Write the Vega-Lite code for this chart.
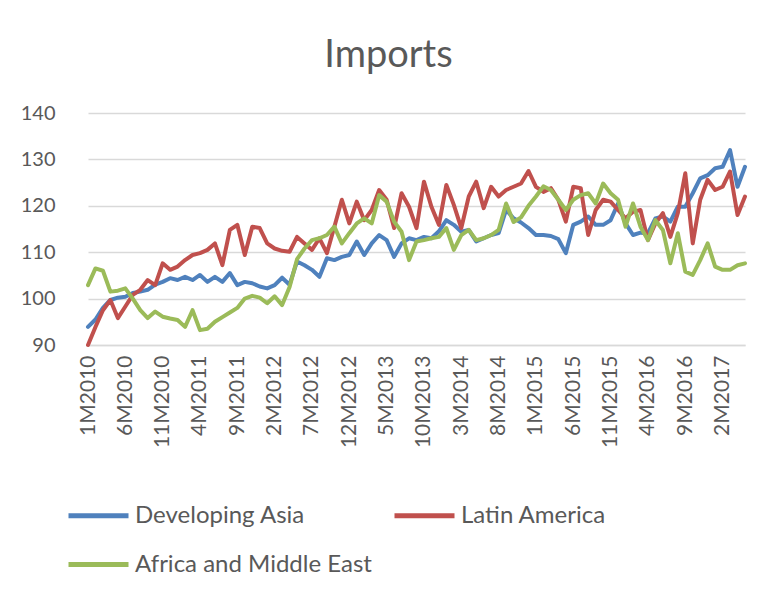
{
  "$schema": "https://vega.github.io/schema/vega-lite/v6.json",
  "width": 657,
  "height": 232,
  "autosize": {"type": "none"},
  "padding": {"left": 88, "top": 113, "right": 31, "bottom": 261},
  "background": "white",
  "title": {
    "text": "Imports",
    "font": "Lato",
    "fontSize": 38,
    "fontWeight": "normal",
    "color": "#595959",
    "anchor": "middle",
    "frame": "group",
    "dx": -28,
    "baseline": "alphabetic",
    "offset": -2
  },
  "config": {
    "view": {"stroke": null},
    "font": "Lato"
  },
  "data": {
    "values": [
      {"m":"1M2010","r":"Developing Asia","v":93.9},{"m":"2M2010","r":"Developing Asia","v":95.5},{"m":"3M2010","r":"Developing Asia","v":98.0},{"m":"4M2010","r":"Developing Asia","v":99.7},{"m":"5M2010","r":"Developing Asia","v":100.2},{"m":"6M2010","r":"Developing Asia","v":100.4},{"m":"7M2010","r":"Developing Asia","v":101.2},{"m":"8M2010","r":"Developing Asia","v":101.5},{"m":"9M2010","r":"Developing Asia","v":101.9},{"m":"10M2010","r":"Developing Asia","v":103.0},{"m":"11M2010","r":"Developing Asia","v":103.6},{"m":"12M2010","r":"Developing Asia","v":104.4},
      {"m":"1M2011","r":"Developing Asia","v":104.0},{"m":"2M2011","r":"Developing Asia","v":104.7},{"m":"3M2011","r":"Developing Asia","v":104.0},{"m":"4M2011","r":"Developing Asia","v":105.1},{"m":"5M2011","r":"Developing Asia","v":103.6},{"m":"6M2011","r":"Developing Asia","v":104.7},{"m":"7M2011","r":"Developing Asia","v":103.6},{"m":"8M2011","r":"Developing Asia","v":105.5},{"m":"9M2011","r":"Developing Asia","v":102.9},{"m":"10M2011","r":"Developing Asia","v":103.6},{"m":"11M2011","r":"Developing Asia","v":103.3},{"m":"12M2011","r":"Developing Asia","v":102.6},
      {"m":"1M2012","r":"Developing Asia","v":102.2},{"m":"2M2012","r":"Developing Asia","v":102.9},{"m":"3M2012","r":"Developing Asia","v":104.5},{"m":"4M2012","r":"Developing Asia","v":103.0},{"m":"5M2012","r":"Developing Asia","v":108.0},{"m":"6M2012","r":"Developing Asia","v":107.2},{"m":"7M2012","r":"Developing Asia","v":106.2},{"m":"8M2012","r":"Developing Asia","v":104.7},{"m":"9M2012","r":"Developing Asia","v":108.7},{"m":"10M2012","r":"Developing Asia","v":108.3},{"m":"11M2012","r":"Developing Asia","v":109.0},{"m":"12M2012","r":"Developing Asia","v":109.4},
      {"m":"1M2013","r":"Developing Asia","v":112.3},{"m":"2M2013","r":"Developing Asia","v":109.4},{"m":"3M2013","r":"Developing Asia","v":111.9},{"m":"4M2013","r":"Developing Asia","v":113.7},{"m":"5M2013","r":"Developing Asia","v":112.6},{"m":"6M2013","r":"Developing Asia","v":109.0},{"m":"7M2013","r":"Developing Asia","v":111.9},{"m":"8M2013","r":"Developing Asia","v":113.0},{"m":"9M2013","r":"Developing Asia","v":112.6},{"m":"10M2013","r":"Developing Asia","v":113.3},{"m":"11M2013","r":"Developing Asia","v":113.0},{"m":"12M2013","r":"Developing Asia","v":114.5},
      {"m":"1M2014","r":"Developing Asia","v":116.9},{"m":"2M2014","r":"Developing Asia","v":115.9},{"m":"3M2014","r":"Developing Asia","v":114.4},{"m":"4M2014","r":"Developing Asia","v":114.8},{"m":"5M2014","r":"Developing Asia","v":112.3},{"m":"6M2014","r":"Developing Asia","v":113.0},{"m":"7M2014","r":"Developing Asia","v":113.7},{"m":"8M2014","r":"Developing Asia","v":114.1},{"m":"9M2014","r":"Developing Asia","v":119.1},{"m":"10M2014","r":"Developing Asia","v":117.3},{"m":"11M2014","r":"Developing Asia","v":116.4},{"m":"12M2014","r":"Developing Asia","v":115.2},
      {"m":"1M2015","r":"Developing Asia","v":113.7},{"m":"2M2015","r":"Developing Asia","v":113.7},{"m":"3M2015","r":"Developing Asia","v":113.5},{"m":"4M2015","r":"Developing Asia","v":112.8},{"m":"5M2015","r":"Developing Asia","v":109.8},{"m":"6M2015","r":"Developing Asia","v":115.9},{"m":"7M2015","r":"Developing Asia","v":116.6},{"m":"8M2015","r":"Developing Asia","v":117.7},{"m":"9M2015","r":"Developing Asia","v":115.9},{"m":"10M2015","r":"Developing Asia","v":115.9},{"m":"11M2015","r":"Developing Asia","v":116.9},{"m":"12M2015","r":"Developing Asia","v":120.5},
      {"m":"1M2016","r":"Developing Asia","v":116.2},{"m":"2M2016","r":"Developing Asia","v":113.7},{"m":"3M2016","r":"Developing Asia","v":114.2},{"m":"4M2016","r":"Developing Asia","v":114.1},{"m":"5M2016","r":"Developing Asia","v":117.3},{"m":"6M2016","r":"Developing Asia","v":117.7},{"m":"7M2016","r":"Developing Asia","v":116.6},{"m":"8M2016","r":"Developing Asia","v":119.8},{"m":"9M2016","r":"Developing Asia","v":119.8},{"m":"10M2016","r":"Developing Asia","v":122.7},{"m":"11M2016","r":"Developing Asia","v":125.9},{"m":"12M2016","r":"Developing Asia","v":126.6},
      {"m":"1M2017","r":"Developing Asia","v":128.1},{"m":"2M2017","r":"Developing Asia","v":128.4},{"m":"3M2017","r":"Developing Asia","v":132.0},{"m":"4M2017","r":"Developing Asia","v":124.1},{"m":"5M2017","r":"Developing Asia","v":128.4},

      {"m":"1M2010","r":"Latin America","v":90.0},{"m":"2M2010","r":"Latin America","v":93.9},{"m":"3M2010","r":"Latin America","v":97.5},{"m":"4M2010","r":"Latin America","v":99.7},{"m":"5M2010","r":"Latin America","v":95.8},{"m":"6M2010","r":"Latin America","v":98.3},{"m":"7M2010","r":"Latin America","v":100.8},{"m":"8M2010","r":"Latin America","v":101.9},{"m":"9M2010","r":"Latin America","v":104.0},{"m":"10M2010","r":"Latin America","v":102.9},{"m":"11M2010","r":"Latin America","v":107.6},{"m":"12M2010","r":"Latin America","v":106.2},
      {"m":"1M2011","r":"Latin America","v":106.9},{"m":"2M2011","r":"Latin America","v":108.3},{"m":"3M2011","r":"Latin America","v":109.4},{"m":"4M2011","r":"Latin America","v":109.8},{"m":"5M2011","r":"Latin America","v":110.5},{"m":"6M2011","r":"Latin America","v":111.9},{"m":"7M2011","r":"Latin America","v":107.2},{"m":"8M2011","r":"Latin America","v":114.8},{"m":"9M2011","r":"Latin America","v":115.9},{"m":"10M2011","r":"Latin America","v":109.4},{"m":"11M2011","r":"Latin America","v":115.5},{"m":"12M2011","r":"Latin America","v":115.2},
      {"m":"1M2012","r":"Latin America","v":111.9},{"m":"2M2012","r":"Latin America","v":110.8},{"m":"3M2012","r":"Latin America","v":110.3},{"m":"4M2012","r":"Latin America","v":110.1},{"m":"5M2012","r":"Latin America","v":113.3},{"m":"6M2012","r":"Latin America","v":111.9},{"m":"7M2012","r":"Latin America","v":110.5},{"m":"8M2012","r":"Latin America","v":113.0},{"m":"9M2012","r":"Latin America","v":109.8},{"m":"10M2012","r":"Latin America","v":115.5},{"m":"11M2012","r":"Latin America","v":121.3},{"m":"12M2012","r":"Latin America","v":116.2},
      {"m":"1M2013","r":"Latin America","v":120.9},{"m":"2M2013","r":"Latin America","v":116.9},{"m":"3M2013","r":"Latin America","v":119.1},{"m":"4M2013","r":"Latin America","v":123.4},{"m":"5M2013","r":"Latin America","v":121.3},{"m":"6M2013","r":"Latin America","v":115.2},{"m":"7M2013","r":"Latin America","v":122.7},{"m":"8M2013","r":"Latin America","v":119.8},{"m":"9M2013","r":"Latin America","v":115.2},{"m":"10M2013","r":"Latin America","v":125.2},{"m":"11M2013","r":"Latin America","v":119.8},{"m":"12M2013","r":"Latin America","v":115.9},
      {"m":"1M2014","r":"Latin America","v":124.5},{"m":"2M2014","r":"Latin America","v":120.2},{"m":"3M2014","r":"Latin America","v":115.2},{"m":"4M2014","r":"Latin America","v":122.0},{"m":"5M2014","r":"Latin America","v":125.2},{"m":"6M2014","r":"Latin America","v":119.5},{"m":"7M2014","r":"Latin America","v":124.1},{"m":"8M2014","r":"Latin America","v":122.0},{"m":"9M2014","r":"Latin America","v":123.4},{"m":"10M2014","r":"Latin America","v":124.1},{"m":"11M2014","r":"Latin America","v":124.8},{"m":"12M2014","r":"Latin America","v":127.5},
      {"m":"1M2015","r":"Latin America","v":124.1},{"m":"2M2015","r":"Latin America","v":123.0},{"m":"3M2015","r":"Latin America","v":123.8},{"m":"4M2015","r":"Latin America","v":121.3},{"m":"5M2015","r":"Latin America","v":116.6},{"m":"6M2015","r":"Latin America","v":124.1},{"m":"7M2015","r":"Latin America","v":123.8},{"m":"8M2015","r":"Latin America","v":113.7},{"m":"9M2015","r":"Latin America","v":119.1},{"m":"10M2015","r":"Latin America","v":121.3},{"m":"11M2015","r":"Latin America","v":120.9},{"m":"12M2015","r":"Latin America","v":119.1},
      {"m":"1M2016","r":"Latin America","v":117.3},{"m":"2M2016","r":"Latin America","v":118.7},{"m":"3M2016","r":"Latin America","v":119.1},{"m":"4M2016","r":"Latin America","v":112.6},{"m":"5M2016","r":"Latin America","v":116.2},{"m":"6M2016","r":"Latin America","v":118.4},{"m":"7M2016","r":"Latin America","v":113.3},{"m":"8M2016","r":"Latin America","v":118.4},{"m":"9M2016","r":"Latin America","v":127.0},{"m":"10M2016","r":"Latin America","v":111.9},{"m":"11M2016","r":"Latin America","v":121.3},{"m":"12M2016","r":"Latin America","v":125.6},
      {"m":"1M2017","r":"Latin America","v":123.4},{"m":"2M2017","r":"Latin America","v":124.1},{"m":"3M2017","r":"Latin America","v":127.4},{"m":"4M2017","r":"Latin America","v":118.0},{"m":"5M2017","r":"Latin America","v":122.0},

      {"m":"1M2010","r":"Africa and Middle East","v":102.9},{"m":"2M2010","r":"Africa and Middle East","v":106.5},{"m":"3M2010","r":"Africa and Middle East","v":106.0},{"m":"4M2010","r":"Africa and Middle East","v":101.5},{"m":"5M2010","r":"Africa and Middle East","v":101.7},{"m":"6M2010","r":"Africa and Middle East","v":102.2},{"m":"7M2010","r":"Africa and Middle East","v":100.0},{"m":"8M2010","r":"Africa and Middle East","v":97.5},{"m":"9M2010","r":"Africa and Middle East","v":95.8},{"m":"10M2010","r":"Africa and Middle East","v":97.2},{"m":"11M2010","r":"Africa and Middle East","v":96.1},{"m":"12M2010","r":"Africa and Middle East","v":95.7},
      {"m":"1M2011","r":"Africa and Middle East","v":95.4},{"m":"2M2011","r":"Africa and Middle East","v":93.9},{"m":"3M2011","r":"Africa and Middle East","v":97.5},{"m":"4M2011","r":"Africa and Middle East","v":93.2},{"m":"5M2011","r":"Africa and Middle East","v":93.5},{"m":"6M2011","r":"Africa and Middle East","v":95.0},{"m":"7M2011","r":"Africa and Middle East","v":96.0},{"m":"8M2011","r":"Africa and Middle East","v":97.0},{"m":"9M2011","r":"Africa and Middle East","v":98.0},{"m":"10M2011","r":"Africa and Middle East","v":100.0},{"m":"11M2011","r":"Africa and Middle East","v":100.6},{"m":"12M2011","r":"Africa and Middle East","v":100.2},
      {"m":"1M2012","r":"Africa and Middle East","v":99.0},{"m":"2M2012","r":"Africa and Middle East","v":100.5},{"m":"3M2012","r":"Africa and Middle East","v":98.6},{"m":"4M2012","r":"Africa and Middle East","v":102.5},{"m":"5M2012","r":"Africa and Middle East","v":108.5},{"m":"6M2012","r":"Africa and Middle East","v":110.8},{"m":"7M2012","r":"Africa and Middle East","v":112.6},{"m":"8M2012","r":"Africa and Middle East","v":113.0},{"m":"9M2012","r":"Africa and Middle East","v":113.7},{"m":"10M2012","r":"Africa and Middle East","v":115.5},{"m":"11M2012","r":"Africa and Middle East","v":111.9},{"m":"12M2012","r":"Africa and Middle East","v":114.1},
      {"m":"1M2013","r":"Africa and Middle East","v":116.2},{"m":"2M2013","r":"Africa and Middle East","v":117.3},{"m":"3M2013","r":"Africa and Middle East","v":116.2},{"m":"4M2013","r":"Africa and Middle East","v":122.3},{"m":"5M2013","r":"Africa and Middle East","v":120.9},{"m":"6M2013","r":"Africa and Middle East","v":116.6},{"m":"7M2013","r":"Africa and Middle East","v":114.4},{"m":"8M2013","r":"Africa and Middle East","v":108.3},{"m":"9M2013","r":"Africa and Middle East","v":112.3},{"m":"10M2013","r":"Africa and Middle East","v":112.6},{"m":"11M2013","r":"Africa and Middle East","v":113.0},{"m":"12M2013","r":"Africa and Middle East","v":113.3},
      {"m":"1M2014","r":"Africa and Middle East","v":115.2},{"m":"2M2014","r":"Africa and Middle East","v":110.5},{"m":"3M2014","r":"Africa and Middle East","v":113.7},{"m":"4M2014","r":"Africa and Middle East","v":114.8},{"m":"5M2014","r":"Africa and Middle East","v":112.6},{"m":"6M2014","r":"Africa and Middle East","v":113.0},{"m":"7M2014","r":"Africa and Middle East","v":113.7},{"m":"8M2014","r":"Africa and Middle East","v":114.8},{"m":"9M2014","r":"Africa and Middle East","v":120.5},{"m":"10M2014","r":"Africa and Middle East","v":116.5},{"m":"11M2014","r":"Africa and Middle East","v":117.5},{"m":"12M2014","r":"Africa and Middle East","v":120.0},
      {"m":"1M2015","r":"Africa and Middle East","v":122.0},{"m":"2M2015","r":"Africa and Middle East","v":124.2},{"m":"3M2015","r":"Africa and Middle East","v":123.4},{"m":"4M2015","r":"Africa and Middle East","v":121.3},{"m":"5M2015","r":"Africa and Middle East","v":119.1},{"m":"6M2015","r":"Africa and Middle East","v":121.3},{"m":"7M2015","r":"Africa and Middle East","v":122.3},{"m":"8M2015","r":"Africa and Middle East","v":122.7},{"m":"9M2015","r":"Africa and Middle East","v":120.5},{"m":"10M2015","r":"Africa and Middle East","v":124.8},{"m":"11M2015","r":"Africa and Middle East","v":122.7},{"m":"12M2015","r":"Africa and Middle East","v":121.3},
      {"m":"1M2016","r":"Africa and Middle East","v":115.5},{"m":"2M2016","r":"Africa and Middle East","v":120.5},{"m":"3M2016","r":"Africa and Middle East","v":115.5},{"m":"4M2016","r":"Africa and Middle East","v":112.6},{"m":"5M2016","r":"Africa and Middle East","v":116.9},{"m":"6M2016","r":"Africa and Middle East","v":114.8},{"m":"7M2016","r":"Africa and Middle East","v":107.6},{"m":"8M2016","r":"Africa and Middle East","v":114.1},{"m":"9M2016","r":"Africa and Middle East","v":105.8},{"m":"10M2016","r":"Africa and Middle East","v":105.1},{"m":"11M2016","r":"Africa and Middle East","v":108.3},{"m":"12M2016","r":"Africa and Middle East","v":111.9},
      {"m":"1M2017","r":"Africa and Middle East","v":106.9},{"m":"2M2017","r":"Africa and Middle East","v":106.2},{"m":"3M2017","r":"Africa and Middle East","v":106.2},{"m":"4M2017","r":"Africa and Middle East","v":107.2},{"m":"5M2017","r":"Africa and Middle East","v":107.6}
    ]
  },
  "mark": {"type": "line", "strokeWidth": 4, "strokeJoin": "round", "strokeCap": "round"},
  "encoding": {
    "x": {
      "field": "m",
      "type": "ordinal",
      "sort": null,
      "scale": {"type": "point", "padding": 0},
      "axis": {
        "title": null,
        "values": ["1M2010","6M2010","11M2010","4M2011","9M2011","2M2012","7M2012","12M2012","5M2013","10M2013","3M2014","8M2014","1M2015","6M2015","11M2015","4M2016","9M2016","2M2017"],
        "labelAngle": -90,
        "labelFontSize": 21,
        "labelColor": "#595959",
        "labelPadding": 10,
        "ticks": false,
        "domain": true,
        "domainColor": "#d9d9d9",
        "domainWidth": 1.5,
        "grid": false
      }
    },
    "y": {
      "field": "v",
      "type": "quantitative",
      "scale": {"domain": [90, 140], "zero": false, "nice": false},
      "axis": {
        "title": null,
        "values": [90, 100, 110, 120, 130, 140],
        "labelFontSize": 20,
        "labelColor": "#595959",
        "labelPadding": 33,
        "ticks": false,
        "domain": false,
        "grid": true,
        "gridColor": "#d9d9d9",
        "gridWidth": 1.5
      }
    },
    "color": {
      "field": "r",
      "type": "nominal",
      "sort": null,
      "scale": {
        "domain": ["Developing Asia", "Latin America", "Africa and Middle East"],
        "range": ["#4f81bd", "#c0504d", "#9bbb59"]
      },
      "legend": {
        "title": null,
        "orient": "none",
        "legendX": -22,
        "legendY": 370,
        "direction": "horizontal",
        "columns": 2,
        "symbolType": "stroke",
        "symbolSize": 3600,
        "symbolStrokeWidth": 5,
        "labelFontSize": 24,
        "labelLimit": 400,
        "labelColor": "#595959",
        "labelOffset": 4,
        "columnPadding": 12,
        "rowPadding": 4
      }
    }
  }
}
